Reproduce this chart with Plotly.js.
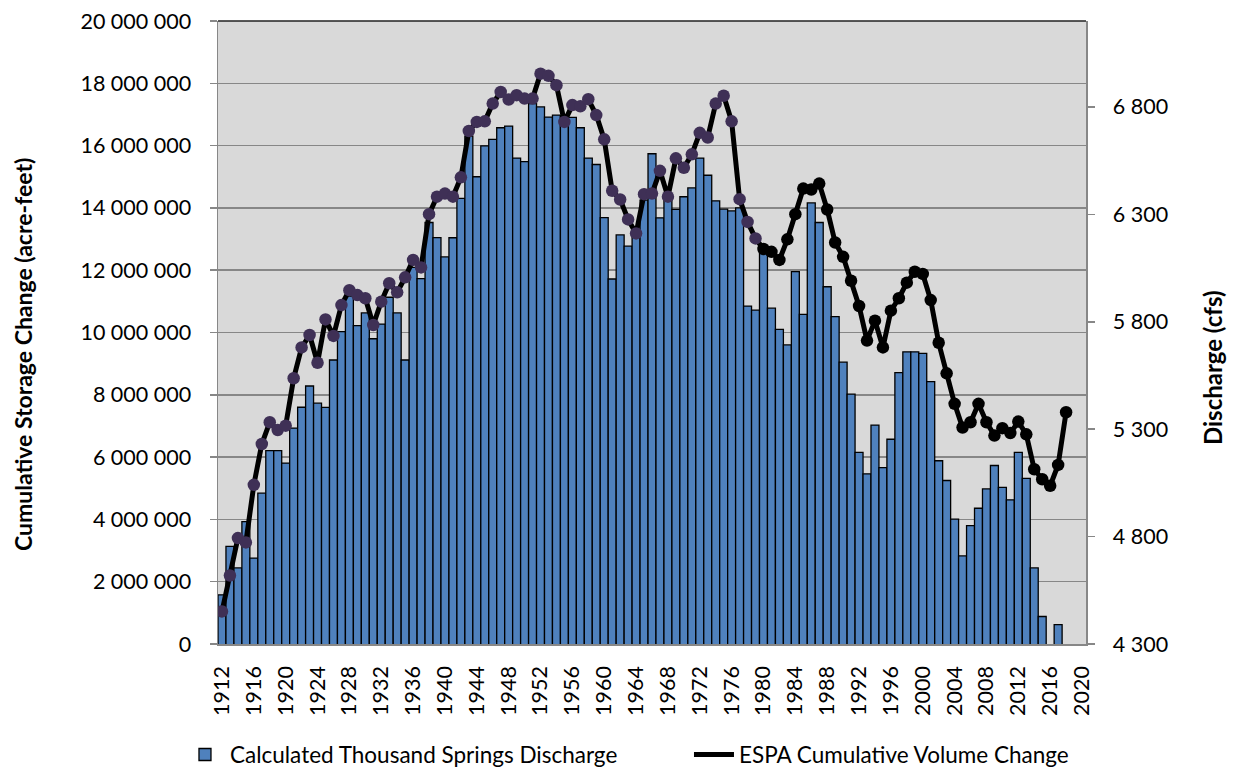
<!DOCTYPE html>
<html>
<head>
<meta charset="utf-8">
<script src="https://cdn.plot.ly/plotly-3.0.1.min.js"></script>
<style>
  html, body { margin: 0; padding: 0; background: #ffffff; }
  #chart { width: 1234px; height: 769px; }
</style>
</head>
<body>
<div id="chart"></div>
<script>
// ---- Data ----
const years = [
  1912,1913,1914,1915,1916,1917,1918,1919,1920,1921,
  1922,1923,1924,1925,1926,1927,1928,1929,1930,1931,
  1932,1933,1934,1935,1936,1937,1938,1939,1940,1941,
  1942,1943,1944,1945,1946,1947,1948,1949,1950,1951,
  1952,1953,1954,1955,1956,1957,1958,1959,1960,1961,
  1962,1963,1964,1965,1966,1967,1968,1969,1970,1971,
  1972,1973,1974,1975,1976,1977,1978,1979,1980,1981,
  1982,1983,1984,1985,1986,1987,1988,1989,1990,1991,
  1992,1993,1994,1995,1996,1997,1998,1999,2000,2001,
  2002,2003,2004,2005,2006,2007,2008,2009,2010,2011,
  2012,2013,2014,2015,2016,2017,2018
];

// Calculated Thousand Springs Discharge (cfs) - bars, right axis
const discharge = [
  4529,4754,4654,4870,4700,5002,5200,5200,5142,5305,
  5402,5501,5421,5401,5622,5754,5920,5782,5841,5721,
  5789,5914,5841,5622,6053,6001,6262,6192,6102,6191,
  6374,6664,6475,6619,6649,6703,6711,6562,6545,6816,
  6800,6753,6762,6756,6751,6703,6562,6532,6285,5999,
  6204,6152,6214,6366,6582,6284,6366,6323,6382,6423,
  6562,6482,6363,6324,6316,6330,5873,5854,6120,5863,
  5765,5692,6033,5834,6353,6262,5963,5824,5612,5463,
  5192,5092,5319,5121,5253,5563,5660,5660,5653,5521,
  5153,5061,4881,4710,4851,4932,5022,5131,5029,4971,
  5192,5071,4654,4428,null,4390,null
];

// ESPA Cumulative Volume Change (acre-feet) - line, left axis
const storage = [
  1045000,2200000,3400000,3260000,5110000,6420000,7120000,6870000,7010000,8530000,
  9520000,9920000,9030000,10420000,9890000,10880000,11360000,11200000,11100000,10240000,
  10990000,11580000,11290000,11770000,12330000,12090000,13800000,14360000,14460000,14360000,
  14980000,16470000,16760000,16780000,17350000,17720000,17480000,17620000,17510000,17510000,
  18310000,18240000,17940000,16760000,17300000,17260000,17490000,16980000,16200000,14550000,
  14270000,13630000,13180000,14440000,14460000,15190000,14360000,15590000,15290000,15720000,
  16410000,16260000,17350000,17600000,16780000,14280000,13550000,13020000,12680000,12590000,
  12330000,12990000,13800000,14620000,14590000,14780000,13950000,12890000,12430000,11660000,
  10850000,9740000,10380000,9520000,10700000,11100000,11600000,11950000,11880000,11040000,
  9670000,8690000,7710000,6950000,7120000,7710000,7120000,6690000,6930000,6770000,
  7140000,6730000,5610000,5290000,5080000,5750000,7440000
];

const xTickVals = [1912,1916,1920,1924,1928,1932,1936,1940,1944,1948,1952,1956,1960,1964,1968,1972,1976,1980,1984,1988,1992,1996,2000,2004,2008,2012,2016,2020];
const leftTickVals = [0,2000000,4000000,6000000,8000000,10000000,12000000,14000000,16000000,18000000,20000000];
const leftTickText = ['0','2 000 000','4 000 000','6 000 000','8 000 000','10 000 000','12 000 000','14 000 000','16 000 000','18 000 000','20 000 000'];
const rightTickVals = [4300,4800,5300,5800,6300,6800];
const rightTickText = ['4 300','4 800','5 300','5 800','6 300','6 800'];

const barName = 'Calculated Thousand Springs Discharge';
const lineName = 'ESPA Cumulative Volume Change';
const leftTitle = 'Cumulative Storage Change (acre-feet)';
const rightTitle = 'Discharge (cfs)';

// ---- Styles ----
const FONT = 'Lato, "Open Sans", "DejaVu Sans", sans-serif';
const purple = '#3F3056';
const black = '#000000';
const markerColors = years.map(function (y) { return y <= 1979 ? purple : black; });
const gridCol = '#878787';

const traces = [
  {
    type: 'bar',
    x: years,
    y: discharge,
    name: barName,
    xaxis: 'x',
    yaxis: 'y',
    marker: { color: '#4F81BD', line: { color: '#000000', width: 1.3 } },
    width: 1,
    showlegend: true,
    hoverinfo: 'skip'
  },
  {
    type: 'scatter',
    mode: 'lines+markers',
    x: years,
    y: storage,
    name: lineName,
    xaxis: 'x',
    yaxis: 'y2',
    line: { color: '#000000', width: 5 },
    marker: { color: markerColors, size: 12.5, symbol: 'circle' },
    showlegend: false,
    hoverinfo: 'skip'
  },
  {
    type: 'scatter',
    mode: 'lines',
    x: [null],
    y: [null],
    name: lineName,
    xaxis: 'x',
    yaxis: 'y2',
    line: { color: '#000000', width: 5 },
    showlegend: true,
    hoverinfo: 'skip'
  }
];

const layout = {
  width: 1234,
  height: 769,
  margin: { l: 218, r: 148, t: 21, b: 125, pad: 0, autoexpand: false },
  paper_bgcolor: '#ffffff',
  plot_bgcolor: '#D9D9D9',
  font: { family: FONT, size: 21, color: '#000000' },
  bargap: 0,
  hovermode: false,
  showlegend: true,
  legend: {
    orientation: 'h',
    x: -0.0438,
    xanchor: 'left',
    y: -0.178,
    yanchor: 'middle',
    font: { family: FONT, size: 22.5, color: '#000000' },
    bgcolor: 'rgba(0,0,0,0)',
    traceorder: 'normal',
    itemwidth: 40,
    entrywidth: 454,
    entrywidthmode: 'pixels',
    tracegroupgap: 0
  },
  xaxis: {
    type: 'linear',
    range: [1911.5, 2020.5],
    tickmode: 'array',
    tickvals: xTickVals,
    ticktext: xTickVals.map(String),
    tickangle: -90,
    tickfont: { family: FONT, size: 21.5 },
    showgrid: false,
    zeroline: false,
    showline: true,
    linecolor: gridCol,
    linewidth: 1.5,
    ticks: '',
    ticklabelstandoff: 12
  },
  yaxis: {
    side: 'right',
    range: [4300, 7200],
    tickmode: 'array',
    tickvals: rightTickVals,
    ticktext: rightTickText,
    tickfont: { family: FONT, size: 21.5 },
    showgrid: false,
    zeroline: false,
    showline: true,
    linecolor: gridCol,
    linewidth: 1.5,
    ticks: 'outside',
    ticklen: 7,
    tickcolor: gridCol,
    tickwidth: 1.5,
    ticklabelstandoff: 14
  },
  yaxis2: {
    overlaying: 'y',
    side: 'left',
    range: [0, 20000000],
    tickmode: 'array',
    tickvals: leftTickVals,
    ticktext: leftTickText,
    tickfont: { family: FONT, size: 21.5 },
    showgrid: true,
    gridcolor: gridCol,
    gridwidth: 1.5,
    zeroline: false,
    showline: true,
    linecolor: gridCol,
    linewidth: 1.5,
    ticks: 'outside',
    ticklen: 7,
    tickcolor: gridCol,
    tickwidth: 1.5,
    ticklabelstandoff: 14
  },
  annotations: [
    { xref: 'paper', yref: 'paper', x: -0.2247, y: 0.4655, xanchor: 'center', yanchor: 'middle',
      text: '<b>' + leftTitle + '</b>', textangle: -90, showarrow: false,
      font: { family: FONT, size: 23, weight: 'bold', color: '#000000' } },
    { xref: 'paper', yref: 'paper', x: 1.1452, y: 0.443, xanchor: 'center', yanchor: 'middle',
      text: '<b>' + rightTitle + '</b>', textangle: -90, showarrow: false,
      font: { family: FONT, size: 24, weight: 'bold', color: '#000000' } }
  ],
  shapes: [
    { type: 'line', xref: 'paper', yref: 'paper', x0: 0, x1: 1, y0: 1, y1: 1,
      line: { color: '#222222', width: 1.5 } }
  ]
};

Plotly.newPlot('chart', traces, layout, { staticPlot: true, displayModeBar: false });
</script>
</body>
</html>
